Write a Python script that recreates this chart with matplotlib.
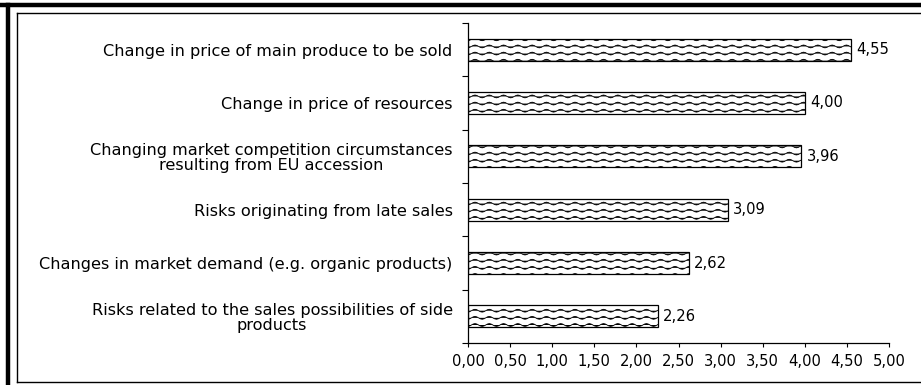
import warnings
warnings.simplefilter("ignore")
import numpy as np
import matplotlib
matplotlib.use("Agg")
import matplotlib.pyplot as plt
import matplotlib.hatch as mhatch
from matplotlib.path import Path
from matplotlib.lines import Line2D

categories = [
    "Change in price of main produce to be sold",
    "Change in price of resources",
    "Changing market competition circumstances\nresulting from EU accession",
    "Risks originating from late sales",
    "Changes in market demand (e.g. organic products)",
    "Risks related to the sales possibilities of side\nproducts",
]
values = [4.55, 4.00, 3.96, 3.09, 2.62, 2.26]
xticks = [0, 0.5, 1.0, 1.5, 2.0, 2.5, 3.0, 3.5, 4.0, 4.5, 5.0]


class WaveHatch(mhatch.HatchPatternBase):
    def __init__(self, hatch, density):
        n = hatch.count('w')
        self.rows = 14 * n
        self.periods = 7
        self.seg = 8
        self.ppr = self.periods * self.seg + 1
        self.num_vertices = self.rows * self.ppr

    def set_vertices_and_codes(self, vertices, codes):
        xs = np.linspace(0, 1, self.ppr)
        amp = 0.014
        k = 0
        for i in range(self.rows):
            y0 = (i + 0.5) / self.rows
            ys = y0 + amp * np.sin(2 * np.pi * self.periods * xs)
            vertices[k:k + self.ppr, 0] = xs
            vertices[k:k + self.ppr, 1] = ys
            codes[k] = Path.MOVETO
            codes[k + 1:k + self.ppr] = Path.LINETO
            k += self.ppr


mhatch._hatch_types.append(WaveHatch)

plt.rcParams['font.family'] = ['DejaVu Sans']
plt.rcParams['hatch.linewidth'] = 0.6
plt.rcParams['hatch.color'] = '#444444'

W, H = 921, 385
fig = plt.figure(figsize=(W / 100, H / 100), dpi=100)
fig.patch.set_facecolor('white')

left, right, top, bottom = 468, 889, 23, 343
ax = fig.add_axes([left / W, 1 - bottom / H, (right - left) / W, (bottom - top) / H])

n = len(categories)
ypos = np.arange(n)[::-1]
bars = ax.barh(ypos, values, height=0.41, color='white', edgecolor='black',
               linewidth=0.9, hatch='w')

ax.set_xlim(0, 5)
ax.set_ylim(-0.5, n - 0.5)

ax.set_yticks(ypos)
ax.set_yticklabels(categories, fontsize=11.6, linespacing=1.05)
for t in ax.get_yticklabels():
    t.set_multialignment('center')
ax.tick_params(axis='y', which='major', length=0, pad=11)
ax.set_yticks(np.arange(-0.5, n, 1.0), minor=True)
ax.tick_params(axis='y', which='minor', length=4.5, width=0.8, direction='out')

ax.set_xticks(xticks)
ax.set_xticklabels([f"{v:.2f}".replace('.', ',') for v in xticks], fontsize=10.6)
ax.tick_params(axis='x', length=3, width=0.8, direction='out', pad=5)

for s in ['top', 'right']:
    ax.spines[s].set_visible(False)
for s in ['left', 'bottom']:
    ax.spines[s].set_linewidth(0.9)

for b, v in zip(bars, values):
    ax.text(v + 0.06, b.get_y() + b.get_height() / 2, f"{v:.2f}".replace('.', ','),
            va='center', ha='left', fontsize=10.6)

# outer frame lines (figure decoration)
fig.add_artist(Line2D([0, 1], [1 - 5 / H, 1 - 5 / H], transform=fig.transFigure,
                      color='black', linewidth=3.2))
fig.add_artist(Line2D([7.5 / W, 7.5 / W], [0, 1 - 5 / H], transform=fig.transFigure,
                      color='black', linewidth=3.2))
# inner thin frame
fig.add_artist(Line2D([16.5 / W, 1, ], [1 - 12.5 / H, 1 - 12.5 / H], transform=fig.transFigure,
                      color='black', linewidth=1.0))
fig.add_artist(Line2D([16.5 / W, 16.5 / W], [1 - 12.5 / H, 1 - 382 / H], transform=fig.transFigure,
                      color='black', linewidth=1.0))
fig.add_artist(Line2D([16.5 / W, 1], [1 - 382 / H, 1 - 382 / H], transform=fig.transFigure,
                      color='black', linewidth=1.0))

fig.savefig('out.png', dpi=100)
